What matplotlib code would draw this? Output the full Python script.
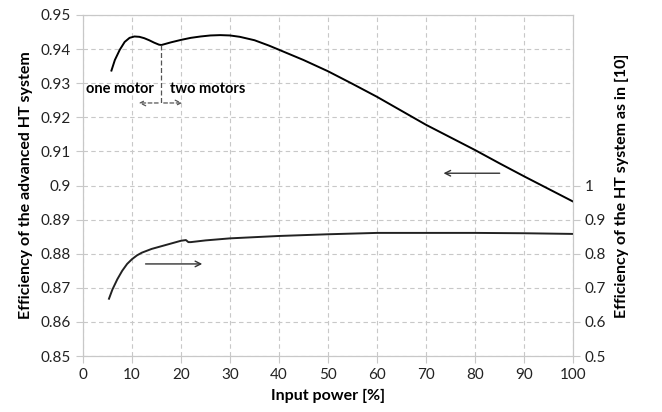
import matplotlib
matplotlib.use("Agg")
import matplotlib.pyplot as plt

# advanced HT system (left axis)
x_adv = [5.8, 6.5, 7.5, 8.5, 9.5, 10.5, 11.5, 12.5, 13.5, 14.5, 15.5, 16, 17, 18, 20, 22,
         24, 26, 28, 30, 32, 35, 38, 40, 45, 50, 55, 60, 65, 70, 75, 80, 85, 90, 95, 100]
eff_adv = [0.9337, 0.9368, 0.9398, 0.9421, 0.9433, 0.9437, 0.9436, 0.9432, 0.9426, 0.9419,
           0.9413, 0.9412, 0.9416, 0.9420, 0.9427, 0.9433, 0.9437, 0.9440, 0.9441, 0.9440,
           0.9436, 0.9426, 0.9410, 0.9398, 0.9368, 0.9335, 0.9298, 0.9260, 0.9219, 0.9178,
           0.9141, 0.9104, 0.9065, 0.9027, 0.8990, 0.8953]

# HT system as in [10] (right axis)
x_ref = [5.3, 6, 7, 8, 9, 10, 11, 12, 14, 16, 18, 20, 21, 21.5, 22, 25, 30, 40, 50, 60,
         70, 80, 90, 100]
eff_ref = [0.668, 0.695, 0.725, 0.750, 0.770, 0.784, 0.795, 0.803, 0.814, 0.822, 0.830,
           0.838, 0.840, 0.834, 0.834, 0.839, 0.845, 0.852, 0.857, 0.861, 0.861, 0.861,
           0.860, 0.858]

xticks = list(range(0, 101, 10))
yticks_left = [0.85, 0.86, 0.87, 0.88, 0.89, 0.9, 0.91, 0.92, 0.93, 0.94, 0.95]
yticks_right = [0.5, 0.6, 0.7, 0.8, 0.9, 1.0]

plt.rcParams["font.family"] = ["Lato", "DejaVu Sans"]
grid_c = "#c8c8c8"

fig = plt.figure(figsize=(6.62, 4.12), dpi=100)
ax = fig.add_axes([0.1254, 0.1359, 0.7402, 0.8277])
ax2 = ax.twinx()

ax.plot(x_adv, eff_adv, color="black", lw=1.4)
ax2.plot(x_ref, eff_ref, color="#222222", lw=1.4)

ax.set_xlim(0, 100)
ax.set_ylim(0.85, 0.95)
ax2.set_ylim(0.5, 1.5)
ax.set_xticks(xticks)
ax.set_xticklabels([str(t) for t in xticks])
ax.set_yticks(yticks_left)
ax.set_yticklabels([f"{t:g}" for t in yticks_left])
ax2.set_yticks(yticks_right)
ax2.set_yticklabels([f"{t:g}" for t in yticks_right])

ax.grid(True, color=grid_c, ls=(0, (4, 3)), lw=0.8)
for a in (ax, ax2):
    for s in a.spines.values():
        s.set_color(grid_c)
    a.tick_params(colors=grid_c, labelcolor="#222222", labelsize=11, length=5)

ax.set_xlabel("Input power [%]", fontsize=11.5, fontweight="bold", labelpad=5)
ax.set_ylabel("Efficiency of the advanced HT system", fontsize=11.5, fontweight="bold", labelpad=6)
ax2.set_ylabel("Efficiency of the HT system as in [10]", fontsize=11.5, fontweight="bold", labelpad=6)

# annotations
ax.text(0.7, 0.9282, "one motor", fontsize=10.5, fontweight="bold", va="center", ha="left")
ax.text(17.8, 0.9282, "two motors", fontsize=10.5, fontweight="bold", va="center", ha="left")
ax.plot([15.9, 15.9], [0.9411, 0.9242], color="#555555", lw=0.9, ls=(0, (4, 2)))
ax.annotate("", xy=(10.8, 0.9242), xytext=(15.9, 0.9242),
            arrowprops=dict(arrowstyle="->", color="#555555", lw=0.9, ls=(0, (3, 2))))
ax.annotate("", xy=(20.8, 0.9242), xytext=(15.9, 0.9242),
            arrowprops=dict(arrowstyle="->", color="#555555", lw=0.9, ls=(0, (3, 2))))
ax.annotate("", xy=(73, 0.9036), xytext=(85.6, 0.9036),
            arrowprops=dict(arrowstyle="->", color="#333333", lw=1.0))
ax.annotate("", xy=(24.9, 0.877), xytext=(12.2, 0.877),
            arrowprops=dict(arrowstyle="->", color="#333333", lw=1.0))

fig.savefig("out.png", dpi=100)
